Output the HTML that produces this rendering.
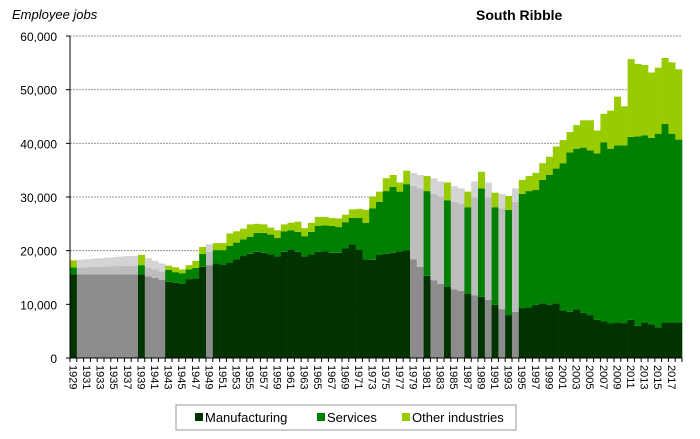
<!DOCTYPE html>
<html><head><meta charset="utf-8"><style>
body{margin:0;background:#fff;}
svg{display:block;font-family:"Liberation Sans",Arial,sans-serif;}
</style></head><body>
<svg id="chart" width="700" height="439" viewBox="0 0 700 439">
<text x="12" y="19" font-size="13" font-style="italic" fill="#000">Employee jobs</text>
<text x="476" y="20" font-size="14" font-weight="bold" fill="#000">South Ribble</text>
<g id="grid"></g>
<g id="bars"></g>
<g id="axes"></g>
<g>
<rect x="176" y="405" width="340" height="25" fill="#fff" stroke="#999" stroke-width="1"/>
<rect x="195" y="413" width="8" height="8" fill="#003300"/>
<text x="205" y="422" font-size="13">Manufacturing</text>
<rect x="317" y="413" width="8" height="8" fill="#008000"/>
<text x="327" y="422" font-size="13">Services</text>
<rect x="402" y="413" width="8" height="8" fill="#99cc00"/>
<text x="412" y="422" font-size="13">Other industries</text>
</g>
</svg>
<script>
const firstYear = 1929;
const manufacturing = [15.6,15.6,15.6,15.6,15.6,15.6,15.6,15.6,15.6,15.6,15.6,15.2,14.9,14.6,14.2,14.0,13.8,14.7,14.8,17.0,17.3,17.6,17.4,17.7,18.4,19.0,19.4,19.8,19.6,19.3,18.9,19.8,20.2,19.8,18.9,19.3,19.8,19.9,19.6,19.6,20.4,21.2,20.2,18.4,18.3,19.2,19.4,19.6,19.9,20.1,18.4,17.0,15.3,14.5,13.8,13.3,12.8,12.5,12.0,11.7,11.4,10.8,9.9,9.1,8.0,8.6,9.3,9.4,9.9,10.2,9.9,10.2,8.9,8.6,9.1,8.4,8.0,7.1,6.8,6.5,6.6,6.5,7.1,6.0,6.6,6.3,5.7,6.6,6.6,6.6];
const services = [1.3,1.3,1.3,1.4,1.4,1.5,1.5,1.6,1.6,1.6,1.7,1.7,1.6,1.5,2.2,2.0,2.0,1.8,2.0,2.4,2.5,2.5,2.7,3.2,3.1,3.1,3.2,3.5,3.7,3.7,3.5,3.8,3.6,3.7,3.8,4.2,4.8,4.8,5.0,4.8,4.9,4.9,5.9,6.8,9.6,9.9,11.7,12.3,11.1,12.3,13.7,14.6,15.8,16.1,16.3,16.1,16.3,16.2,16.1,18.2,20.2,19.1,18.2,18.8,19.6,20.5,21.3,21.7,21.4,23.0,24.2,25.1,27.4,29.7,29.9,30.8,30.7,31.0,33.4,32.5,33.0,33.1,34.1,35.3,34.9,34.7,36.1,37.0,35.2,34.1];
const otherIndustries = [1.3,1.4,1.5,1.5,1.6,1.6,1.7,1.7,1.8,1.8,1.9,1.7,1.6,1.5,0.8,0.9,0.7,0.8,1.3,1.3,1.4,1.3,1.3,2.3,2.1,2.0,2.3,1.7,1.6,1.3,1.4,1.3,1.4,1.9,1.5,1.7,1.7,1.6,1.5,1.6,1.4,1.6,1.7,2.4,2.2,1.9,2.4,2.2,1.7,2.5,2.4,2.5,2.8,2.9,2.8,3.3,2.9,2.9,2.9,3.0,3.1,2.8,2.7,2.7,2.6,2.5,2.6,2.8,3.2,3.1,3.4,4.1,4.3,3.8,4.4,5.1,5.6,4.3,5.3,7.1,9.1,7.3,14.5,13.5,13.1,12.2,12.3,12.3,13.3,13.1];
const estimatedYears = [1930,1931,1932,1933,1934,1935,1936,1937,1938,1940,1941,1942,1949,1979,1980,1982,1983,1985,1986,1988,1990,1992,1994];
const yTicks = [0,10000,20000,30000,40000,50000,60000];
const yTickLabels = ["0","10,000","20,000","30,000","40,000","50,000","60,000"];

const NS = "http://www.w3.org/2000/svg";
const X0 = 70, X1 = 682, Y0 = 358, Y1 = 36, YMAX = 60000;
const n = manufacturing.length;
const bw = (X1 - X0) / n;
function xPos(i){ return X0 + i * bw; }
function yPos(v){ return Y0 - (v / YMAX) * (Y0 - Y1); }
function mk(tag, attrs, parent){ const e = document.createElementNS(NS, tag); for (const k in attrs) e.setAttribute(k, attrs[k]); parent.appendChild(e); return e; }

const grid = document.getElementById('grid');
const axes = document.getElementById('axes');
const bars = document.getElementById('bars');

yTicks.forEach((t, k) => {
  const y = yPos(t);
  if (t > 0) {
    const gl = mk('line', {x1: X0, x2: X1, y1: y, y2: y, stroke: '#999', 'stroke-width': 1, 'stroke-dasharray': '2,1'}, grid);
    
    
  }
  const tk = mk('line', {x1: X0 - 4, x2: X0, y1: y, y2: y, stroke: '#000'}, axes);
  
  
  const lb = mk('text', {x: 57, y: y + 5, 'font-size': 12, 'text-anchor': 'end'}, axes);
  
  
  lb.textContent = yTickLabels[k];
});

const colsReal = ['#003300', '#008000', '#99cc00'];
const colsEst = ['#8c8c8c', '#bdbdbd', '#d4d4d4'];
for (let i = 0; i < n; i++) {
  const year = firstYear + i;
  const est = estimatedYears.indexOf(year) >= 0;
  const cols = est ? colsEst : colsReal;
  const vals = [manufacturing[i], services[i], otherIndustries[i]];
  const names = ['bar-manufacturing', 'bar-services', 'bar-other-industries'];
  let base = 0;
  for (let s = 0; s < 3; s++) {
    const top = base + vals[s] * 1000;
    const r = mk('rect', {x: xPos(i), y: yPos(top), width: bw + 0.3, height: yPos(base) - yPos(top), fill: cols[s]}, bars);
    
    
    base = top;
  }
  const xt = mk('line', {x1: xPos(i), x2: xPos(i), y1: Y0, y2: Y0 + 4, stroke: '#000'}, axes);
  
  
  if (i % 2 === 0) {
    const cx = xPos(i) + bw / 2 - 4;
    const t = mk('text', {x: 0, y: 0, 'font-size': 11, transform: 'translate(' + cx + ',' + (Y0 + 7) + ') rotate(90)'}, axes);
    
    
    t.textContent = year;
  }
}
const xt = mk('line', {x1: X1, x2: X1, y1: Y0, y2: Y0 + 4, stroke: '#000'}, axes);


const ya = mk('line', {x1: X0, x2: X0, y1: Y1, y2: Y0, stroke: '#000'}, axes);


const xa = mk('line', {x1: X0, x2: X1, y1: Y0, y2: Y0, stroke: '#000'}, axes);


</script>
</body></html>
